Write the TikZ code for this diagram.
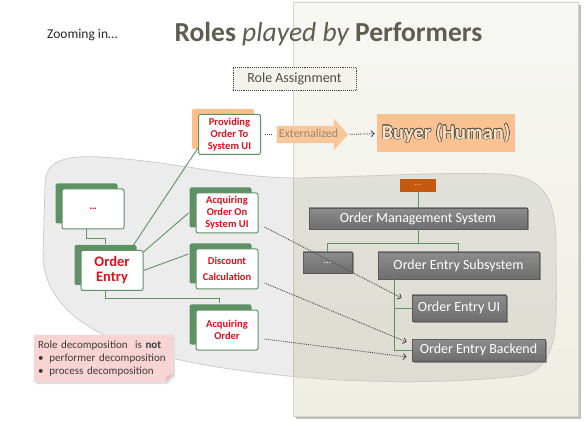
\documentclass[tikz,border=0pt]{standalone}
\usepackage{fontspec}
\setmainfont{Carlito}
\usepackage[copies]{contour}
\usetikzlibrary{shadows,shapes.arrows,arrows.meta,calc,backgrounds}
\definecolor{paneltop}{HTML}{F7F7F4}
\definecolor{panelbot}{HTML}{EFEEE3}
\definecolor{panelborder}{HTML}{D4D4CA}
\definecolor{titlecol}{HTML}{5D5E4F}
\definecolor{rgreen}{HTML}{5E9163}
\definecolor{rred}{HTML}{D8111C}
\definecolor{provorange}{HTML}{F9C08B}
\definecolor{extorange}{HTML}{F9C799}
\definecolor{exttext}{HTML}{9A8470}
\definecolor{buyerfill}{HTML}{FAC193}
\definecolor{buyertext}{HTML}{FDE3C6}
\definecolor{buyerline}{HTML}{5A5446}
\definecolor{odotsfill}{HTML}{C5590F}
\definecolor{sysa}{HTML}{8D8D8D}
\definecolor{sysb}{HTML}{6E6E6E}
\definecolor{sysborder}{HTML}{5A5A5A}
\definecolor{notefill}{HTML}{F9D4D4}
\definecolor{notefold}{HTML}{E3B5B5}
\definecolor{notetext}{HTML}{3A3A3A}
\definecolor{rabox}{HTML}{F3F2EC}
\contourlength{0.5pt}
\tikzset{
  rolebase/.style={draw=rgreen, line width=1pt, fill=white, rounded corners=2pt,
    minimum width=62pt, minimum height=40pt, align=center, text=rred,
    font=\bfseries\fontsize{10.5}{12}\selectfont, inner sep=1pt},
  role/.style={rolebase, general shadow={fill=rgreen, shadow xshift=-6.5pt, shadow yshift=5.5pt, rounded corners=2pt}},
  roleo/.style={rolebase, general shadow={fill=provorange, shadow xshift=-6.5pt, shadow yshift=5.5pt, rounded corners=2pt}},
  sysbox/.style={draw=sysborder, line width=0.6pt, top color=sysa, bottom color=sysb, text=white,
    font=\fontsize{14}{16}\selectfont, inner sep=0pt,
    drop shadow={shadow xshift=1.5pt, shadow yshift=-1.5pt, opacity=0.35, fill=black}},
  tree/.style={draw=rgreen, line width=0.9pt},
  dotline/.style={densely dotted, draw=black!70, line width=0.9pt},
  dotarrow/.style={dotline, -{Straight Barb[length=3pt,width=6pt]}},
}
\begin{document}
\begin{tikzpicture}[x=1pt,y=-1pt]
\useasboundingbox (0,0) rectangle (584,422);

% title texts
\node[anchor=base, text=titlecol, inner sep=0pt] (title) at (328.5,41.7)
  {\fontsize{27.5}{31}\selectfont\bfseries Roles \mdseries\itshape played by \upshape\bfseries Performers};
\node[anchor=base west, inner sep=0pt, text=black!85] (zoom) at (47,39)
  {\fontsize{13.5}{16}\selectfont Zooming in…};

% role assignment
\node[draw=black!75, densely dotted, line width=0.9pt, fill=rabox, minimum width=123pt, minimum height=23pt,
  text=black!70, font=\fontsize{14}{16}\selectfont, inner sep=0pt] (ra) at (294.5,78.5) {Role Assignment};

% left role nodes
\node[roleo] (prov) at (229.5,134.5) {Providing\\Order To\\System UI};
\node[role] (dots) at (93,209) {…};
\node[role, font=\bfseries\fontsize{14.5}{15}\selectfont] (oe) at (112,270.5) {Order\\Entry};
\node[role] (acq) at (227,213) {Acquiring\\Order On\\System UI};
\node[role] (disc) at (227,269) {Discount\\[4pt]Calculation};
\node[role] (acqo) at (227,330) {Acquiring\\Order};

% externalized
\node[single arrow, single arrow tip angle=97, single arrow head extend=7.5pt, fill=extorange,
  text=exttext, font=\fontsize{12}{14}\selectfont, inner xsep=2pt, inner ysep=4pt,
  text height=7.5pt, text depth=1.5pt] (ext) at (308.5,134.5) {Externalized};
\node[fill=buyerfill, minimum width=138pt, minimum height=38pt, inner sep=0pt] (buyer) at (446,133.5)
  {\fontsize{20.5}{24}\selectfont\bfseries\contour{buyerline}{\textcolor{buyertext}{Buyer (Human)}}};

% system side
\node[fill=odotsfill, minimum width=36pt, minimum height=13pt, inner sep=0pt, text=provorange,
  font=\fontsize{9}{10}\selectfont] (odots) at (418,185.5) {…};
\node[sysbox, minimum width=218pt, minimum height=21pt] (oms) at (418,218.5) {Order Management System};
\node[sysbox, minimum width=49pt, minimum height=21pt, font=\fontsize{10}{12}\selectfont] (gdots) at (327.5,262.5) {…};
\node[sysbox, minimum width=161pt, minimum height=27pt] (oes) at (458.5,265.5) {Order Entry Subsystem};
\node[sysbox, minimum width=94pt, minimum height=26pt] (oeui) at (459,308) {Order Entry UI};
\node[sysbox, minimum width=133pt, minimum height=22pt] (oeb) at (478.5,350) {Order Entry Backend};

% note
\node[text width=131pt, align=left, inner xsep=4pt, inner ysep=0pt, minimum height=47pt,
  text=notetext, font=\fontsize{11}{13}\selectfont] (note) at (103.5,358.5)
  {Role decomposition\ \ is \textbf{not}\\
   •\hspace{6pt}performer decomposition\\
   •\hspace{6pt}process decomposition};

% connectors (left)
\draw[tree] ([xshift=-10pt,yshift=5pt]oe.north east) -- ([yshift=7pt]prov.south west);
\draw[tree] ([yshift=-2pt]oe.north east) -- ([xshift=-7pt]acq.west);
\draw[tree] (oe.east) -- ([xshift=-7pt,yshift=15pt]disc.west);
\draw[tree] ([xshift=-7pt]dots.south) -- ++(0,9) -| ([xshift=-7pt,yshift=6pt]oe.north);
\draw[tree] ([xshift=-7pt]oe.south) -- ++(0,7) -| ([xshift=-8pt,yshift=6pt]acqo.north);

% connectors (right tree)
\draw[tree] (odots) -- (oms);
\draw[tree] (oms.south) -- ++(0,14) coordinate (tj) -| (gdots.north);
\draw[tree] (tj) -| (oes.north);
\draw[tree] ([xshift=17pt]oes.south west) |- (oeui.west);
\draw[tree] ([xshift=17pt]oes.south west) |- (oeb.west);

% dotted connectors
\draw[dotline, shorten <=4pt, shorten >=4pt] (prov.east) -- (ext.tail);
\draw[dotarrow, shorten <=2pt, shorten >=2pt] (ext.tip) -- (buyer.west);
\draw[dotarrow] ([xshift=6pt,yshift=-14pt]acq.east) -- ([xshift=-10pt,yshift=10pt]oeui.west);
\draw[dotarrow] ([xshift=6pt,yshift=-14pt]disc.east) -- ([xshift=-5pt,yshift=8pt]oeb.west);
\draw[dotarrow] ([xshift=6pt,yshift=-9pt]acqo.east) -- ([xshift=-5pt,yshift=-7pt]oeb.west);

\begin{scope}[on background layer]
  % right panel
  \fill[black!25] (296,5) rectangle (581,419);
  \draw[panelborder, line width=0.6pt, top color=paneltop, bottom color=panelbot] (293,2) rectangle (578,416);
  % blob
  \path[draw=black!20, line width=0.8pt, fill=black, fill opacity=0.075]
    (45,185) .. controls (45,162) and (62,155) .. (100,157)
    .. controls (180,162) and (230,178) .. (300,178)
    .. controls (380,176) and (440,172) .. (500,174)
    .. controls (550,176) and (556,205) .. (556,250)
    .. controls (556,320) and (562,362) .. (525,375)
    .. controls (460,384) and (350,384) .. (270,374)
    .. controls (140,360) and (50,330) .. (43,260) -- cycle;
  % note background
  \fill[black!12] ([xshift=2pt,yshift=-2pt]note.north west) -- ([xshift=2pt,yshift=-2pt]note.north east)
    -- ([xshift=2pt,yshift=6pt]note.south east) -- ([xshift=-6pt,yshift=-2pt]note.south east)
    -- ([xshift=2pt,yshift=-2pt]note.south west) -- cycle;
  \fill[notefill] (note.north west) -- (note.north east) -- ([yshift=8pt]note.south east)
    -- ([xshift=-8pt]note.south east) -- (note.south west) -- cycle;
  \fill[notefold] ([yshift=8pt]note.south east) -- ([xshift=-8pt]note.south east)
    -- ([xshift=-6pt,yshift=6pt]note.south east) -- cycle;
\end{scope}
\end{tikzpicture}
\end{document}
